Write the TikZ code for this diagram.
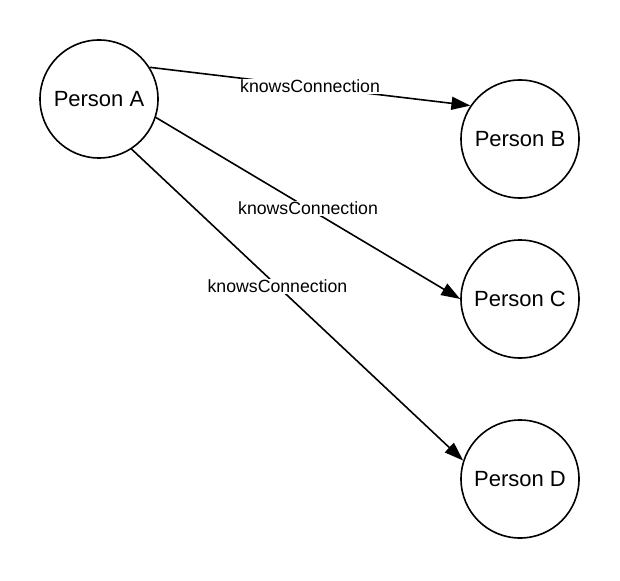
\documentclass[tikz,border=0pt]{standalone}
\usepackage{fontspec}
\setmainfont{Liberation Sans}
\usepackage{tikz}
\usetikzlibrary{arrows.meta}

\begin{document}
\begin{tikzpicture}[x=1pt, y=-1pt,
    person/.style={draw, circle, line width=1.6pt, minimum size=118pt, inner sep=0pt, font=\fontsize{22}{26}\selectfont},
    knows/.style={line width=1.6pt, -{Triangle[length=19pt, width=13pt]}},
    lbl/.style={fill=white, inner sep=1pt, font=\fontsize{17.7}{21}\selectfont}]
    \useasboundingbox (0,0) rectangle (620,580);

    \node[person] (A) at (99, 99) {Person A};
    \node[person] (B) at (520, 139) {Person B};
    \node[person] (C) at (520, 299) {Person C};
    \node[person] (D) at (520, 479) {Person D};

    \draw[knows] (A.32) -- node[lbl] (ab) {knowsConnection} (B.146);
    \draw[knows] (A.-18) -- node[lbl] (ac) {knowsConnection} (C.180);
    \draw[knows] (A.-57) -- node[lbl, pos=0.44] (ad) {knowsConnection} (D.162);

    %\draw[knows] (A) -- (B);
    \end{tikzpicture}
\end{document}
